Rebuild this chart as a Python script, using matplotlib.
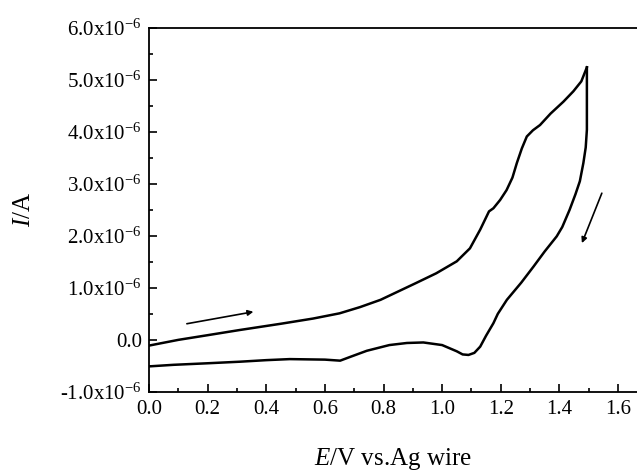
import matplotlib
matplotlib.use("Agg")
import matplotlib.pyplot as plt
from matplotlib.ticker import MultipleLocator, FuncFormatter

plt.rcParams['font.family'] = ['Liberation Serif', 'DejaVu Serif']
plt.rcParams['mathtext.fontset'] = 'custom'
plt.rcParams['mathtext.rm'] = 'Liberation Serif'
plt.rcParams['mathtext.it'] = 'Liberation Serif:italic'

# Forward scan (anodic)
E_fwd = [0.0, 0.10, 0.20, 0.31, 0.45, 0.56, 0.65, 0.72, 0.79, 0.85, 0.91, 0.98,
         1.05, 1.095, 1.13, 1.16, 1.175, 1.198, 1.22, 1.24, 1.255, 1.272, 1.289,
         1.31, 1.334, 1.37, 1.414, 1.448, 1.475, 1.494]
I_fwd = [-0.11, 0.0, 0.09, 0.19, 0.31, 0.41, 0.51, 0.63, 0.77, 0.93, 1.09, 1.28,
         1.51, 1.76, 2.12, 2.47, 2.53, 2.69, 2.88, 3.12, 3.40, 3.68, 3.91,
         4.03, 4.13, 4.35, 4.58, 4.78, 4.97, 5.24]
# Reverse scan
E_rev = [1.494, 1.494, 1.49, 1.482, 1.47, 1.455, 1.435, 1.41, 1.391, 1.35, 1.312, 1.27,
         1.221, 1.19, 1.175, 1.15, 1.13, 1.11, 1.09, 1.07, 1.05, 1.0, 0.936,
         0.88, 0.82, 0.743, 0.69, 0.652, 0.60, 0.48, 0.40, 0.31, 0.20, 0.083, 0.0]
I_rev = [5.24, 4.04, 3.70, 3.40, 3.05, 2.80, 2.50, 2.17, 1.99, 1.70, 1.41, 1.10,
         0.77, 0.50, 0.32, 0.08, -0.13, -0.25, -0.29, -0.28, -0.22, -0.10, -0.05,
         -0.06, -0.10, -0.21, -0.32, -0.40, -0.38, -0.37, -0.39, -0.42, -0.45, -0.48, -0.51]

# Scan direction arrows (start -> end)
arrow_fwd = [(0.129, 0.31), (0.356, 0.54)]
arrow_rev = [(1.545, 2.82), (1.477, 1.86)]

scale = 1e-6

fig = plt.figure(figsize=(6.37, 4.71), dpi=100)
ax = fig.add_axes([0.234, 0.168, 0.766, 0.773])

ax.plot(E_fwd, [v * scale for v in I_fwd], color='black', lw=1.8)
ax.plot(E_rev, [v * scale for v in I_rev], color='black', lw=1.8)

for (s, e) in (arrow_fwd, arrow_rev):
    ax.annotate('', xy=(e[0], e[1] * scale), xytext=(s[0], s[1] * scale),
                arrowprops=dict(arrowstyle='-|>', color='black', lw=1.2,
                                mutation_scale=8, shrinkA=0, shrinkB=0))

ax.set_xlim(0.0, 1.665)
ax.set_ylim(-1.0e-6, 6.0e-6)

ax.xaxis.set_major_locator(MultipleLocator(0.2))
ax.xaxis.set_minor_locator(MultipleLocator(0.1))
ax.yaxis.set_major_locator(MultipleLocator(1e-6))
ax.yaxis.set_minor_locator(MultipleLocator(0.5e-6))

def yfmt(v, pos):
    m = round(v / 1e-6, 1)
    if abs(m) < 1e-9:
        return '0.0'
    return f'{m:.1f}x10$^{{-6}}$'

ax.yaxis.set_major_formatter(FuncFormatter(yfmt))
ax.xaxis.set_major_formatter(FuncFormatter(lambda v, p: f'{v:.1f}'))

ax.tick_params(which='both', direction='in', top=False, right=False,
               labelsize=15, width=1.2)
ax.tick_params(which='major', length=6)
ax.tick_params(which='minor', length=3)
ax.tick_params(axis='x', which='major', pad=6)
ax.tick_params(axis='y', which='major', pad=5)

ax.spines['right'].set_visible(False)
for s in ('left', 'bottom', 'top'):
    ax.spines[s].set_linewidth(1.3)

ax.set_xlabel('$\\mathit{E}$/V vs.Ag wire', fontsize=18, labelpad=19)
ax.set_ylabel('$\\mathit{I}$/A', fontsize=18, labelpad=18)

fig.savefig('out.png', dpi=100)
